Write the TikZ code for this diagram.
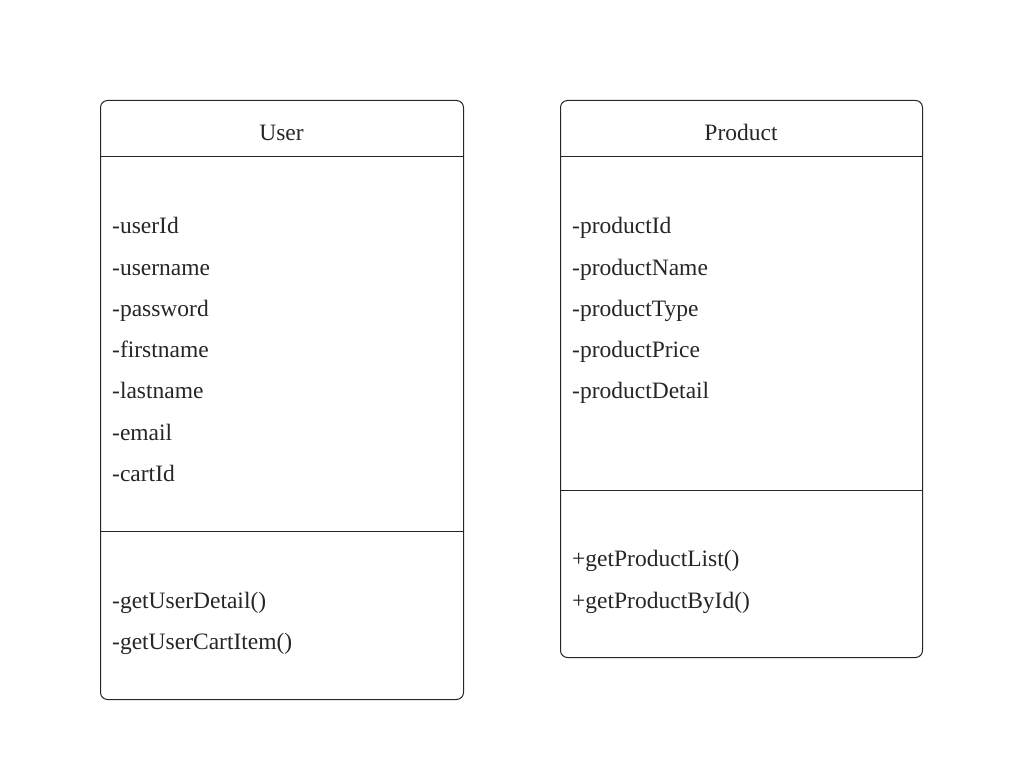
\documentclass[tikz,border=0pt]{standalone}
\usepackage{fontspec}
\setmainfont{Liberation Serif}
\usetikzlibrary{positioning}

\begin{document}
\begin{tikzpicture}[x=1pt,y=-1pt,
    every node/.style={font=\fontsize{23.5}{28}\selectfont, text=black!85,
        inner sep=0pt},
    classbox/.style={draw=black!85, line width=1pt, rounded corners=7pt,
        anchor=north west, minimum width=#1},
    classbox/.default=363pt,
    member/.style={anchor=base west},
    title/.style={anchor=base}]
    \useasboundingbox (0,0) rectangle (1031,757);

    % User
    \node[classbox, minimum height=599pt] (user) at (100,100) {};
    \node[title] (user-name) at (281.5,141) {User};
    \draw[black!85,line width=1pt] (user.north west) ++(0,57) -- ++(363,0);
    \foreach \t [count=\i] in {-userId,-username,-password,-firstname,
        -lastname,-email,-cartId}
        \node[member] (user-a\i) at (112,192.4+41.3*\i) {\t};
    \draw[black!85,line width=1pt] (user.north west) ++(0,431) -- ++(363,0);
    \foreach \t [count=\i] in {-getUserDetail(),-getUserCartItem()}
        \node[member] (user-m\i) at (112,566.9+41.3*\i) {\t};

    % Product
    \node[classbox=362pt, minimum height=557pt] (product) at (560,100) {};
    \node[title] (product-name) at (741,141) {Product};
    \draw[black!85,line width=1pt] (product.north west) ++(0,57) -- ++(362,0);
    \foreach \t [count=\i] in {-productId,-productName,-productType,
        -productPrice,-productDetail}
        \node[member] (product-a\i) at (572,192.4+41.3*\i) {\t};
    \draw[black!85,line width=1pt] (product.north west) ++(0,390) -- ++(362,0);
    \foreach \t [count=\i] in {+getProductList(),+getProductById()}
        \node[member] (product-m\i) at (572,525.4+41.3*\i) {\t};

\end{tikzpicture}
\end{document}
